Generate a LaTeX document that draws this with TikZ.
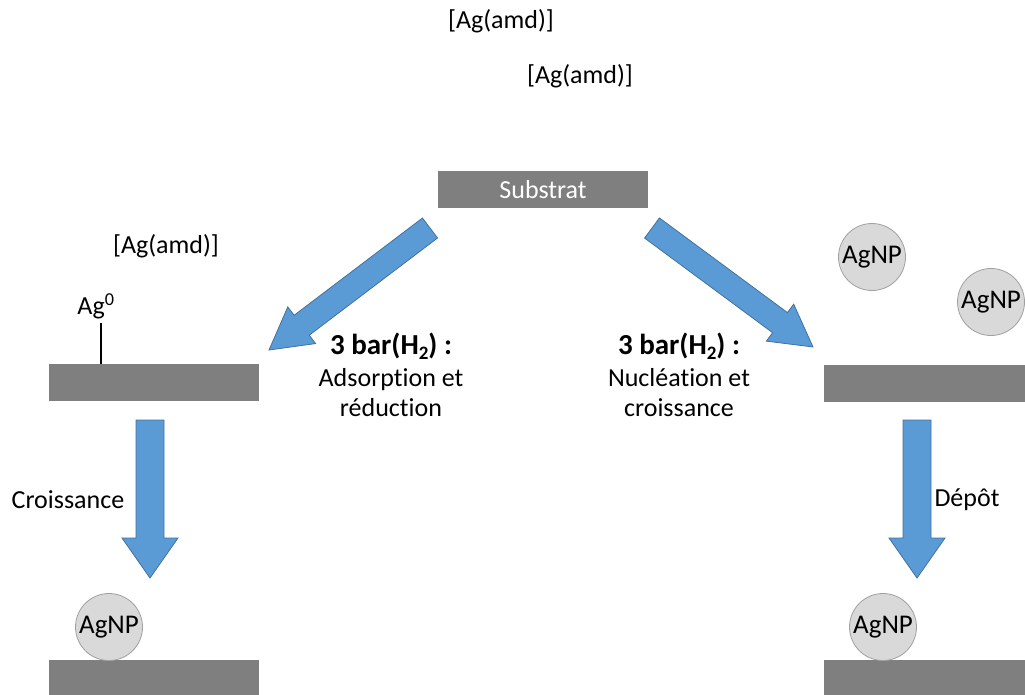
\documentclass[tikz,border=0pt]{standalone}
\usepackage{fontspec}
\setmainfont{Carlito}[Ligatures=NoCommon]
\usetikzlibrary{calc}

\definecolor{bargray}{HTML}{7F7F7F}
\definecolor{npfill}{HTML}{D9D9D9}
\definecolor{npedge}{HTML}{A0A0A0}
\definecolor{arrowblue}{HTML}{5B9BD5}
\definecolor{arrowedge}{HTML}{41719C}

% block arrow: #1 tail, #2 tip, #3 half shaft, #4 half head, #5 head length
\newcommand{\fatarrow}[5]{%
  \path ($(#2)!#5!(#1)$) coordinate (hb);
  \filldraw[fill=arrowblue,draw=arrowedge,line width=0.8pt,line join=miter]
    ($(#1)!#3!90:(#2)$) -- ($(hb)!#3!-90:(#1)$) -- ($(hb)!#4!-90:(#1)$)
    -- (#2) -- ($(hb)!#4!90:(#1)$) -- ($(hb)!#3!90:(#1)$)
    -- ($(#1)!#3!-90:(#2)$) -- cycle;}
% pressure line, bold and a bit larger
\newcommand{\pressure}{{\fontsize{29}{32}\selectfont\bfseries
  3 bar(H\raisebox{-0.35ex}{\fontsize{19}{20}\selectfont 2}) :}}

\begin{document}
\begin{tikzpicture}[x=1pt,y=-1pt,
    bar/.style={fill=bargray,minimum width=210pt,minimum height=37pt,inner sep=0pt},
    np/.style={circle,fill=npfill,draw=npedge,line width=0.8pt,minimum size=67pt,
      inner sep=0pt,font=\fontsize{27}{30}\selectfont},
    lbl/.style={inner sep=0pt,font=\fontsize{26}{30}\selectfont}]
  \useasboundingbox (0,0) rectangle (1025,694);
  % --- precursor and substrate ---
  \node[lbl] (amdA) at (501,21) {[Ag(amd)]};
  \node[lbl] (amdB) at (580,76) {[Ag(amd)]};
  \node[bar,text=white,font=\fontsize{26}{30}\selectfont] (sub) at (543,189.5) {Substrat};
  % --- left branch: adsorption ---
  \node[lbl] (amdL) at (166,246) {[Ag(amd)]};
  \node[bar] (barL) at (154,382.5) {};
  \node[lbl] (ag0) at (96,306) {Ag\textsuperscript{0}};
  \draw[line width=1.2pt] (101,323) -- (101,364);
  \node[bar] (barBL) at (154,678.5) {};
  \node[np] (npBL) at (109,627) {AgNP};
  % --- right branch: nucleation ---
  \node[np] (npA) at (872,257) {AgNP};
  \node[np] (npB) at (991,302) {AgNP};
  \node[bar] (barR) at (929,383) {};
  \node[bar] (barBR) at (929,678.5) {};
  \node[np] (npBR) at (883,627) {AgNP};
  % --- arrows ---
  \coordinate (dlT) at (430,228);  \coordinate (dlH) at (269,350);
  \coordinate (drT) at (652,228);  \coordinate (drH) at (813,347);
  \coordinate (vlT) at (150,420);  \coordinate (vlH) at (150,578);
  \coordinate (vrT) at (917,420);  \coordinate (vrH) at (917,578);
  \fatarrow{dlT}{dlH}{12.5pt}{23pt}{41pt}
  \fatarrow{drT}{drH}{12.5pt}{23pt}{41pt}
  \fatarrow{vlT}{vlH}{14pt}{28pt}{40pt}
  \fatarrow{vrT}{vrH}{14pt}{28pt}{40pt}
  % --- step labels ---
  \node[lbl,align=center] (stepL) at (391,375)
    {\pressure\\[2pt] Adsorption et\\ réduction};
  \node[lbl,align=center] (stepR) at (679,375)
    {\pressure\\[2pt] Nucléation et\\ croissance};
  \node[lbl] (croiss) at (68,500) {Croissance};
  \node[lbl] (depot) at (967,500) {Dépôt};
\end{tikzpicture}
\end{document}
